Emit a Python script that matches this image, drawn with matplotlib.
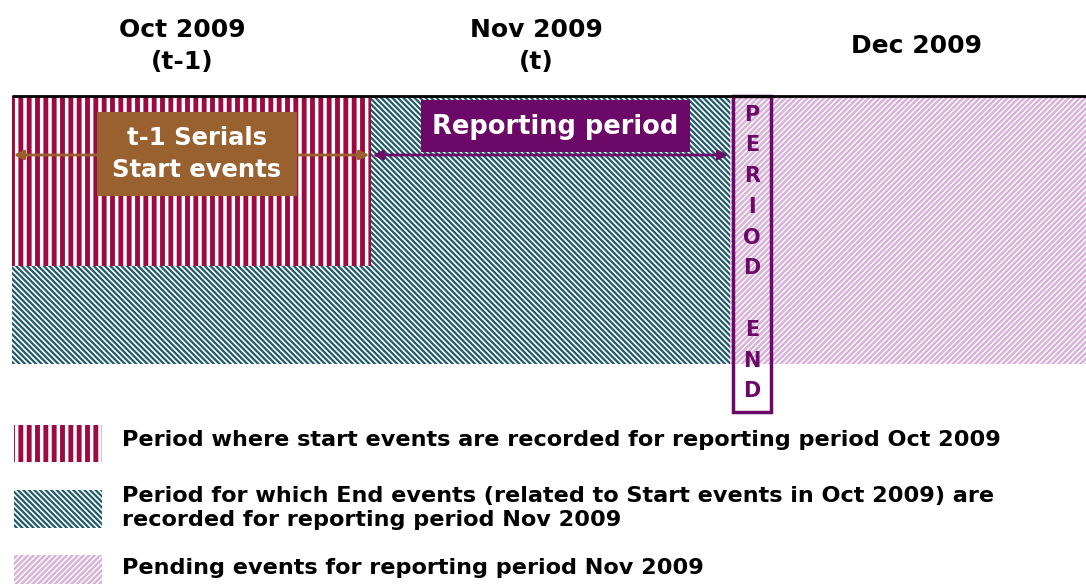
import matplotlib.pyplot as plt
from matplotlib.patches import Rectangle

# months on the time axis (one unit per month)
months = ['Oct 2009\n(t-1)', 'Nov 2009\n(t)', 'Dec 2009']
month_label_x = [0.475, 1.46, 2.52]

# blocks: (start month, end month, bottom row)
red_block = (0, 1, 266)
teal_block = (0, 2, 364)
pink_block = (2, 3, 364)

legend_texts = [
    'Period where start events are recorded for reporting period Oct 2009',
    'Period for which End events (related to Start events in Oct 2009) are\nrecorded for reporting period Nov 2009',
    'Pending events for reporting period Nov 2009',
]

RED = '#9e0a40'
TEAL = '#1d5a6a'
PINK = '#d8b2d8'
PURPLE = '#6c0868'
BROWN = '#9a6130'

TOP = 96
PX = 359.0

fig = plt.figure(figsize=(10.86, 5.84), dpi=100)
ax = fig.add_axes([0, 0, 1, 1])
ax.set_xlim(-12 / PX, 1074 / PX)
ax.set_ylim(584, 0)
ax.axis('off')


class HatchRect(Rectangle):
    # keep a hatch line width for each patch
    def __init__(self, *a, hlw=1.0, **k):
        with plt.rc_context({'hatch.linewidth': hlw}):
            super().__init__(*a, **k)
        self.hlw = hlw
        if hasattr(self, 'set_hatch_linewidth'):
            self.set_hatch_linewidth(hlw)

    def draw(self, renderer):
        with plt.rc_context({'hatch.linewidth': self.hlw}):
            super().draw(renderer)


def hatched(x0, y0, w, h, hatch, col, lw):
    r = HatchRect((x0, y0), w, h, facecolor='white', edgecolor=col,
                  linewidth=0, hatch=hatch, hlw=lw)
    ax.add_patch(r)
    return r


STRIPE = ('||', RED, 3.5)
DIAG_T = ('\\' * 6, TEAL, 1.6)
DIAG_P = ('/' * 6, PINK, 1.8)

hatched(teal_block[0], TOP, teal_block[1] - teal_block[0], teal_block[2] - TOP, *DIAG_T)
hatched(red_block[0], TOP, red_block[1] - red_block[0], red_block[2] - TOP, *STRIPE)
hatched(pink_block[0], TOP, pink_block[1] - pink_block[0], pink_block[2] - TOP, *DIAG_P)

# top timeline
ax.plot([0, 3], [TOP, TOP], color='black', lw=2, solid_capstyle='butt')

# month headers
for x, lab in zip(month_label_x, months):
    ax.text(x, 46, lab, ha='center', va='center', fontsize=18,
            fontweight='bold', color='black', linespacing=1.45)

# period arrows
ax.annotate('', xy=(0.005, 155), xytext=(0.995, 155),
            arrowprops=dict(arrowstyle='<|-|>', color=BROWN, lw=2,
                            mutation_scale=14, shrinkA=0, shrinkB=0))
ax.annotate('', xy=(1.005, 155), xytext=(1.995, 155),
            arrowprops=dict(arrowstyle='<|-|>', color=PURPLE, lw=2,
                            mutation_scale=14, shrinkA=0, shrinkB=0))

ax.add_patch(Rectangle(((97 - 12) / PX, 112), 200 / PX, 84, fc=BROWN, ec='none'))
ax.text((197 - 12) / PX, 154, 't-1 Serials\nStart events', ha='center', va='center',
        fontsize=17.5, fontweight='bold', color='white', linespacing=1.45)
ax.add_patch(Rectangle(((421 - 12) / PX, 100), 269 / PX, 52, fc=PURPLE, ec='none'))
ax.text((555 - 12) / PX, 127, 'Reporting period', ha='center', va='center',
        fontsize=18.5, fontweight='bold', color='white')

# period end marker
ax.add_patch(Rectangle(((733 - 12) / PX, TOP), 38 / PX, 412 - TOP,
                       facecolor='none', edgecolor=PURPLE, lw=2.5))
ax.text((752 - 12) / PX, 253, '\n'.join('PERIOD END'), ha='center',
        va='center', fontsize=15, fontweight='bold', color=PURPLE,
        linespacing=1.67)

# legend
sw_x0 = (14 - 12) / PX
sw_w = 88 / PX
hatched(sw_x0, 425, sw_w, 37, *STRIPE)
hatched(sw_x0, 490, sw_w, 38, *DIAG_T)
hatched(sw_x0, 555, sw_w, 29, *DIAG_P)
tx = (122 - 12) / PX
for y, t in zip([440, 508, 568], legend_texts):
    ax.text(tx, y, t, ha='left', va='center', fontsize=16.1,
            fontweight='bold', color='black', linespacing=1.3)

fig.savefig('out.png', dpi=100)
